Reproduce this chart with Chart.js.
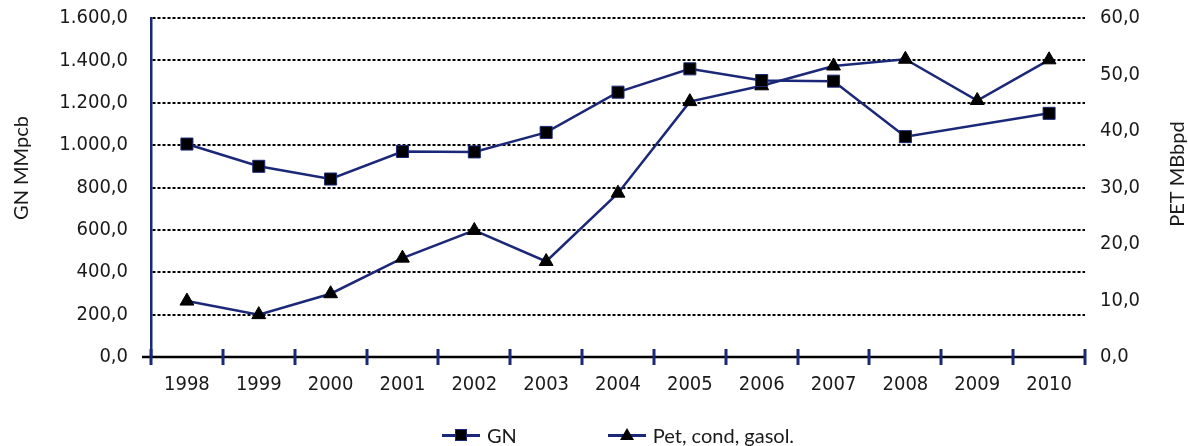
<!DOCTYPE html>
<html>
<head>
<meta charset="utf-8">
<script src="https://cdn.jsdelivr.net/npm/chart.js@4.4.1/dist/chart.umd.min.js"></script>
<style>
  html, body { margin: 0; padding: 0; background: #fff; }
  #wrap { position: relative; width: 1188px; height: 446px; }
  #legend {
    position: absolute; left: 151px; width: 934px; top: 424px; height: 22px;
    display: flex; justify-content: center; align-items: center;
    font: 20px Lato, sans-serif; color: #1a1a1a; line-height: 22px;
  }
  .item { display: flex; align-items: center; }
  .item + .item { margin-left: 91px; }
  .mk { position: relative; width: 38px; height: 16px; margin-right: 7px; }
  .mk::before { content: ""; position: absolute; left: 0; right: 0; top: 7px; height: 2.5px; background: #1b2878; }
  .mk .sq { position: absolute; left: 13px; top: 2px; width: 10px; height: 10px; background: #000; border: 1px solid #1b2878; }
  .mk .tri { position: absolute; left: 12px; top: 1px; width: 0; height: 0;
    border-left: 7px solid transparent; border-right: 7px solid transparent; border-bottom: 12px solid #000; }
</style>
</head>
<body>
<div id="wrap">
  <canvas id="chart" width="1188" height="446"></canvas>
  <div id="legend"></div>
</div>
<script>
const years = ['1998', '1999', '2000', '2001', '2002', '2003', '2004', '2005', '2006', '2007', '2008', '2009', '2010'];
const gnValues = [1005, 900, 840, 970, 968, 1060, 1250, 1360, 1305, 1302, 1040, null, 1150];
const petValues = [9.9, 7.5, 11.2, 17.5, 22.4, 16.9, 29.0, 45.2, 48.0, 51.5, 52.7, 45.4, 52.6];
const gnTicks = ['0,0', '200,0', '400,0', '600,0', '800,0', '1.000,0', '1.200,0', '1.400,0', '1.600,0'];
const petTicks = ['0,0', '10,0', '20,0', '30,0', '40,0', '50,0', '60,0'];

const navy = '#1b2878';
const textColor = '#1a1a1a';
const tickFont = { family: "'Liberation Sans Narrow', 'DejaVu Sans Condensed', sans-serif", size: 20 };

// axis line, boundary ticks and the two rotated axis titles
const axisMarks = {
  id: 'axisMarks',
  afterDraw(chart) {
    const { ctx, chartArea: a, scales: { x } } = chart;
    ctx.save();
    ctx.strokeStyle = '#000';
    ctx.lineWidth = 2.5;
    ctx.beginPath();
    ctx.moveTo(a.left - 9, a.bottom);
    ctx.lineTo(a.right, a.bottom);
    ctx.stroke();

    ctx.strokeStyle = navy;
    ctx.lineWidth = 3;
    const half = (x.getPixelForValue(1) - x.getPixelForValue(0)) / 2;
    for (let i = 0; i <= years.length; i++) {
      const px = Math.round(x.getPixelForValue(i) - half);
      ctx.beginPath();
      ctx.moveTo(px, a.bottom - 8);
      ctx.lineTo(px, a.bottom + 8);
      ctx.stroke();
    }

    ctx.fillStyle = textColor;
    ctx.font = '20px Lato, sans-serif';
    ctx.textAlign = 'center';
    ctx.textBaseline = 'middle';
    ctx.translate(22, 168);
    ctx.rotate(-Math.PI / 2);
    ctx.fillText('GN MMpcb', 0, 0);
    ctx.setTransform(1, 0, 0, 1, 0, 0);
    ctx.translate(chart.width - 10, 174);
    ctx.rotate(-Math.PI / 2);
    ctx.fillText('PET MBbpd', 0, 0);
    ctx.restore();
  }
};

const chart = new Chart(document.getElementById('chart'), {
  type: 'line',
  data: {
    labels: years,
    datasets: [{
      label: 'GN',
      data: gnValues,
      yAxisID: 'y',
      borderColor: navy,
      borderWidth: 2.5,
      pointStyle: 'rect',
      pointRadius: 8.5,
      pointBackgroundColor: '#000',
      pointBorderColor: navy,
      pointBorderWidth: 1,
      spanGaps: true,
      tension: 0
    }, {
      label: 'Pet, cond, gasol.',
      data: petValues,
      yAxisID: 'y1',
      borderColor: navy,
      borderWidth: 2.5,
      pointStyle: 'triangle',
      pointRadius: 8,
      pointBackgroundColor: '#000',
      pointBorderColor: '#000',
      pointBorderWidth: 1,
      tension: 0
    }]
  },
  options: {
    responsive: false,
    animation: false,
    devicePixelRatio: 1,
    layout: { padding: { top: 18, left: 0, right: 0, bottom: 0 } },
    plugins: {
      legend: { display: false },
      tooltip: { enabled: false }
    },
    scales: {
      x: {
        offset: true,
        grid: { display: false },
        border: { display: false },
        ticks: { color: textColor, font: tickFont, padding: 8, maxRotation: 0, autoSkip: false },
        afterFit(scale) { scale.height = 89; }
      },
      y: {
        position: 'left',
        min: 0,
        max: 1600,
        ticks: {
          stepSize: 200,
          color: textColor,
          font: tickFont,
          padding: 0,
          callback: (v, i) => gnTicks[i]
        },
        grid: {
          drawTicks: true,
          tickLength: 23,
          tickColor: 'rgba(0,0,0,0)',
          lineWidth: 2,
          color: ctx => ctx.tick && ctx.tick.value === 0 ? 'rgba(0,0,0,0)' : '#000'
        },
        border: { color: navy, width: 2.5, dash: [3, 2] },
        afterFit(scale) { scale.width = 151; }
      },
      y1: {
        position: 'right',
        min: 0,
        max: 60,
        ticks: {
          stepSize: 10,
          color: textColor,
          font: tickFont,
          padding: 0,
          callback: (v, i) => petTicks[i]
        },
        grid: { drawOnChartArea: false, drawTicks: true, tickLength: 15, tickColor: 'rgba(0,0,0,0)' },
        border: { display: false },
        afterFit(scale) { scale.width = 103; }
      }
    }
  },
  plugins: [axisMarks]
});

// legend built from the datasets
const legend = document.getElementById('legend');
chart.data.datasets.forEach(ds => {
  const item = document.createElement('div');
  item.className = 'item';
  const mk = document.createElement('span');
  mk.className = 'mk';
  const shape = document.createElement('span');
  shape.className = ds.pointStyle === 'rect' ? 'sq' : 'tri';
  mk.appendChild(shape);
  const txt = document.createElement('span');
  txt.textContent = ds.label;
  item.appendChild(mk);
  item.appendChild(txt);
  legend.appendChild(item);
});
</script>
</body>
</html>
